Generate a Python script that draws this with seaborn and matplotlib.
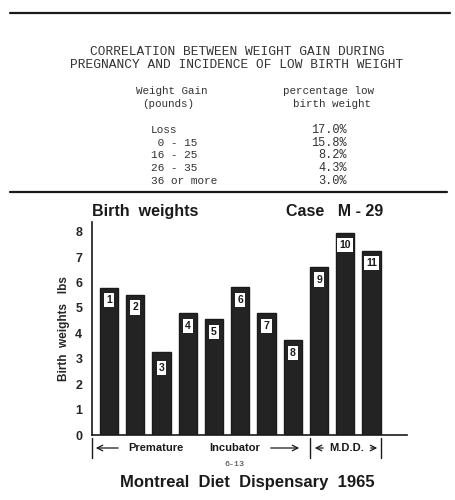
import matplotlib
matplotlib.use("Agg")
import matplotlib.pyplot as plt
from matplotlib.lines import Line2D
import seaborn as sns
import pandas as pd

# table data
table_title = ["CORRELATION BETWEEN WEIGHT GAIN DURING",
               "PREGNANCY AND INCIDENCE OF LOW BIRTH WEIGHT"]
gain_groups = ["Loss", " 0 - 15", "16 - 25", "26 - 35", "36 or more"]
pct_low = ["17.0%", "15.8%", "8.2%", "4.3%", "3.0%"]

# bar chart data
babies = ["1", "2", "3", "4", "5", "6", "7", "8", "9", "10", "11"]
weights = [5.8, 5.52, 3.28, 4.8, 4.57, 5.83, 4.8, 3.74, 6.62, 7.97, 7.26]

df = pd.DataFrame({"baby": babies, "weight": weights})

sns.set_style("white")
plt.rcParams["font.family"] = ["Liberation Sans", "DejaVu Sans"]

W, H = 456, 500
fig = plt.figure(figsize=(W / 100, H / 100), dpi=100)
fig.patch.set_facecolor("white")

def fx(x):
    return x / W

def fy(y):
    return 1 - y / H

ink = "#1a1a1a"
type_ink = "#333333"
mono = "Liberation Mono"

# rules
fig.add_artist(Line2D([fx(10), fx(450)], [fy(13), fy(13)], color=ink, lw=1.6))
fig.add_artist(Line2D([fx(10), fx(447)], [fy(192), fy(192)], color=ink, lw=1.6))

# table
for i, line in enumerate(table_title):
    fig.text(fx(237), fy(52 + 13 * i), line, ha="center", va="center",
             family=mono, fontsize=9.3, color=type_ink)
hdr = dict(ha="center", va="center", family=mono, fontsize=7.8, color=type_ink)
fig.text(fx(172), fy(91), "Weight Gain", **hdr)
fig.text(fx(168), fy(104), "(pounds)", **hdr)
fig.text(fx(329), fy(91), "percentage low", **hdr)
fig.text(fx(332), fy(104), "birth weight", **hdr)
for i, (g, p) in enumerate(zip(gain_groups, pct_low)):
    y = fy(130 + 12.7 * i)
    fig.text(fx(151), y, g, ha="left", va="center", family=mono, fontsize=8, color=type_ink)
    fig.text(fx(347), y, p, ha="right", va="center", family=mono, fontsize=8.6, color=type_ink)

# bar chart
ax = fig.add_axes([fx(92), 65 / H, 315 / W, 213.4 / H])
sns.barplot(data=df, x="baby", y="weight", color="#232323", width=0.69,
            saturation=1, edgecolor=ink, ax=ax)
ax.set_xlim(-0.648, 11.352)
ax.set_ylim(0, 8.4)
ax.set_yticks(range(0, 9))
ax.set_xticks([])
ax.set_xlabel("")
ax.set_ylabel("Birth  weights   lbs", fontsize=8.5, fontweight="bold", labelpad=4)
ax.tick_params(axis="y", length=0, pad=7, labelsize=9)
for lab in ax.get_yticklabels():
    lab.set_fontweight("bold")
sns.despine(ax=ax, top=True, right=True)
ax.spines["left"].set_color(ink)
ax.spines["bottom"].set_color(ink)
ax.spines["left"].set_linewidth(1.2)
ax.spines["bottom"].set_linewidth(1.2)

# numbered white tags near bar tops
for i, (b, w) in enumerate(zip(babies, weights)):
    ty = w - 0.5 if b != "3" else 2.65
    ax.text(i, ty, b, ha="center", va="center", fontsize=7.5, fontweight="bold",
            color=ink, bbox=dict(boxstyle="square,pad=0.2", fc="white", ec="none"))

# titles
fig.text(fx(92), fy(212), "Birth  weights", ha="left", va="center",
         fontsize=11.5, fontweight="bold", color=ink)
fig.text(fx(383), fy(212), "Case   M - 29", ha="right", va="center",
         fontsize=11.5, fontweight="bold", color=ink)

# group brackets under the axis
yb = fy(448)
for xv in [92, 310, 381]:
    fig.add_artist(Line2D([fx(xv), fx(xv)], [fy(438), fy(458)], color=ink, lw=1))
arrow = dict(arrowstyle="->", color=ink, lw=0.9)
fig.add_artist(plt.Annotation("", xy=(fx(93), yb), xytext=(fx(121), yb),
                              xycoords="figure fraction", arrowprops=arrow))
fig.add_artist(plt.Annotation("", xy=(fx(302), yb), xytext=(fx(268), yb),
                              xycoords="figure fraction", arrowprops=arrow))
fig.add_artist(plt.Annotation("", xy=(fx(312), yb), xytext=(fx(326), yb),
                              xycoords="figure fraction", arrowprops=arrow))
fig.add_artist(plt.Annotation("", xy=(fx(380), yb), xytext=(fx(368), yb),
                              xycoords="figure fraction", arrowprops=arrow))
fig.text(fx(156), yb, "Premature", ha="center", va="center", fontsize=8, fontweight="bold", color=ink)
fig.text(fx(235), yb, "Incubator", ha="center", va="center", fontsize=8, fontweight="bold", color=ink)
fig.text(fx(347), yb, "M.D.D.", ha="center", va="center", fontsize=8, fontweight="bold", color=ink)

fig.text(fx(234), fy(465), "6-13", ha="center", va="center", family=mono, fontsize=6, color=type_ink)
fig.text(fx(247), fy(482), "Montreal  Diet  Dispensary  1965", ha="center", va="center",
         fontsize=12, fontweight="bold", color=ink)

fig.savefig("out.png", dpi=100, facecolor="white")
